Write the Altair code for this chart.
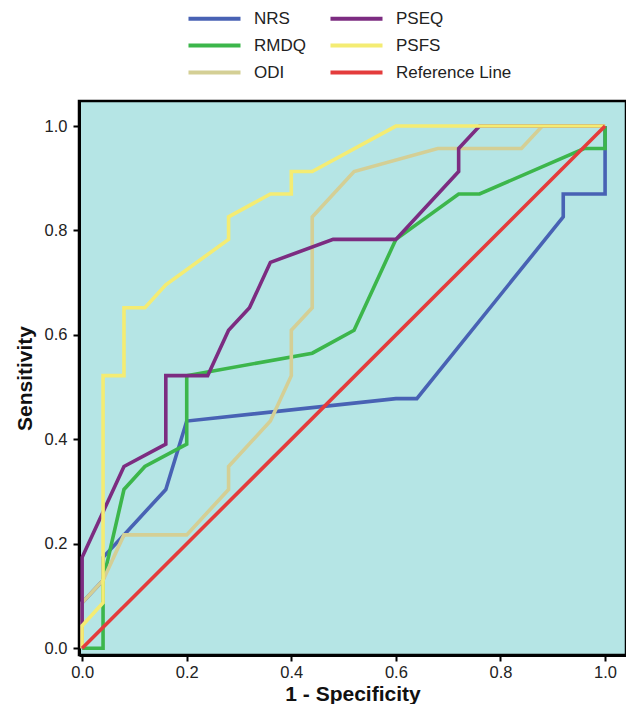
import altair as alt
import pandas as pd

# legend / colour order (Vega fills the 2 legend columns top to bottom)
legend_order = ["NRS", "RMDQ", "ODI", "PSEQ", "PSFS", "Reference Line"]
legend_colors = ["#4862B4", "#3CB64B", "#D4CF95", "#7C2C81", "#F4EC73", "#E43C3C"]
# drawing order (bottom -> top)
draw_order = ["NRS", "RMDQ", "ODI", "PSEQ", "PSFS", "Reference Line"]

nrs_x = [0, 0, 0.04, 0.04, 0.08, 0.16, 0.20, 0.60, 0.64, 0.92, 0.92, 1.0, 1.0]
nrs_y = [0, 0.087, 0.130, 0.174, 0.217, 0.304, 0.435, 0.478, 0.478, 0.826, 0.870, 0.870, 1.0]

rmdq_x = [0, 0.04, 0.04, 0.08, 0.12, 0.20, 0.20, 0.44, 0.52, 0.60, 0.72, 0.76, 0.96, 1.0, 1.0]
rmdq_y = [0, 0, 0.130, 0.304, 0.348, 0.391, 0.522, 0.565, 0.609, 0.783, 0.870, 0.870, 0.957, 0.957, 1.0]

odi_x = [0, 0, 0.04, 0.08, 0.20, 0.28, 0.28, 0.36, 0.40, 0.40, 0.44, 0.44, 0.52, 0.68, 0.84, 0.88, 1.0]
odi_y = [0, 0.087, 0.130, 0.217, 0.217, 0.304, 0.348, 0.435, 0.522, 0.609, 0.652, 0.826, 0.913, 0.957, 0.957, 1.0, 1.0]

pseq_x = [0, 0, 0.04, 0.08, 0.16, 0.16, 0.24, 0.28, 0.32, 0.36, 0.48, 0.60, 0.72, 0.72, 0.76, 1.0]
pseq_y = [0, 0.174, 0.261, 0.348, 0.391, 0.522, 0.522, 0.609, 0.652, 0.739, 0.783, 0.783, 0.913, 0.957, 1.0, 1.0]

psfs_x = [0, 0, 0.04, 0.04, 0.08, 0.08, 0.12, 0.16, 0.28, 0.28, 0.36, 0.40, 0.40, 0.44, 0.60, 1.0]
psfs_y = [0, 0.043, 0.087, 0.522, 0.522, 0.652, 0.652, 0.696, 0.783, 0.826, 0.870, 0.870, 0.913, 0.913, 1.0, 1.0]

ref_x = [0, 1]
ref_y = [0, 1]

x_ticks = [0, 0.2, 0.4, 0.6, 0.8, 1.0]
y_ticks = [0, 0.2, 0.4, 0.6, 0.8, 1.0]

series = {
    "NRS": (nrs_x, nrs_y),
    "RMDQ": (rmdq_x, rmdq_y),
    "ODI": (odi_x, odi_y),
    "PSEQ": (pseq_x, pseq_y),
    "PSFS": (psfs_x, psfs_y),
    "Reference Line": (ref_x, ref_y),
}

rows = []
for name, (xs, ys) in series.items():
    for i, (xv, yv) in enumerate(zip(xs, ys)):
        rows.append({"series": name, "fpr": xv, "tpr": yv, "idx": i})
df = pd.DataFrame(rows)

FONT = "Liberation Sans"

color_enc = alt.Color(
    "series:N",
    scale=alt.Scale(domain=legend_order, range=legend_colors),
    legend=alt.Legend(
        title=None,
        orient="none",
        legendX=123,
        legendY=-95,
        columns=2,
        symbolType="M-2.5,0L2.5,0",
        symbolSize=433,
        symbolStrokeWidth=4,
        labelOffset=27,
        rowPadding=6,
        columnPadding=16,
        labelFont=FONT,
        labelFontSize=17,
        labelColor="#222222",
    ),
)

x_enc = alt.X(
    "fpr:Q",
    scale=alt.Scale(domain=[-0.006, 1.04], nice=False, zero=False),
    axis=alt.Axis(values=x_ticks, format=".1f", title="1 - Specificity"),
)
y_enc = alt.Y(
    "tpr:Q",
    scale=alt.Scale(domain=[-0.013, 1.048], nice=False, zero=False),
    axis=alt.Axis(values=y_ticks, format=".1f", title="Sensitivity"),
)

layers = []
for name in draw_order:
    layers.append(
        alt.Chart(df)
        .transform_filter(alt.datum.series == name)
        .mark_line(strokeWidth=3.6, strokeJoin="miter")
        .encode(x=x_enc, y=y_enc, color=color_enc, order=alt.Order("idx:Q"))
    )

chart = (
    alt.layer(*layers)
    .properties(
        width=547,
        height=554,
        autosize=alt.AutoSizeParams(type="none"),
        padding={"left": 71, "top": 93, "right": 0, "bottom": 49},
        background="white",
    )
    .configure_view(fill="#B5E5E5", stroke="black", strokeWidth=2.5)
    .configure_axis(
        domainColor="black",
        domainWidth=3,
        tickColor="black",
        tickWidth=2,
        tickSize=6,
        grid=False,
        labelFont=FONT,
        labelFontSize=16.5,
        labelColor="#222222",
        titleFont=FONT,
        titleFontSize=21,
        titleFontWeight="bold",
        titleColor="#111111",
    )
    .configure_axisX(labelPadding=16, labelBaseline="alphabetic",
                     titleBaseline="alphabetic", titleY=45)
    .configure_axisY(labelPadding=6, titlePadding=9)
)

chart.save("out.html", embed_options={"renderer": "svg", "actions": False})
